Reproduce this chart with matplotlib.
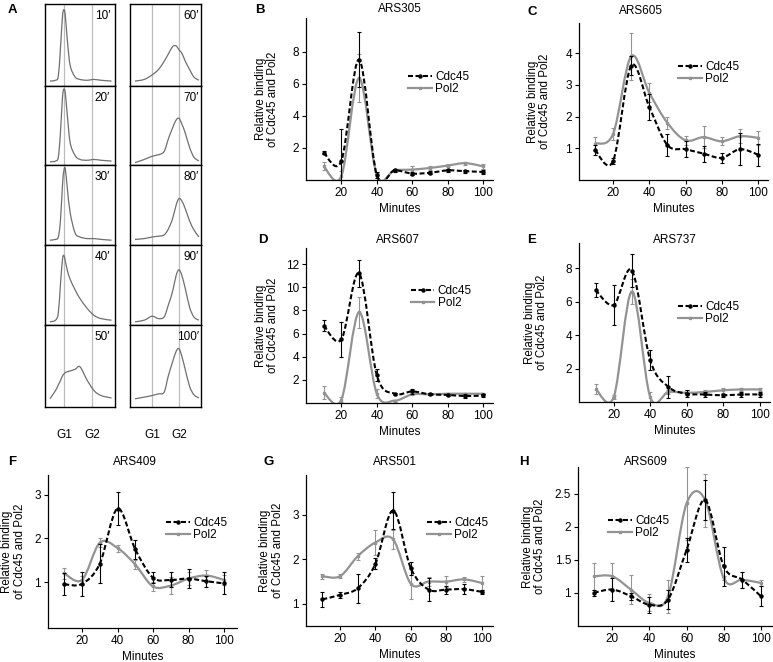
import numpy as np
import matplotlib
matplotlib.use('Agg')
import matplotlib.pyplot as plt
from matplotlib.path import Path
from matplotlib.patches import PathPatch
from matplotlib.lines import Line2D

plt.rcParams['font.family'] = ['Liberation Sans', 'DejaVu Sans']
plt.rcParams['font.size'] = 8.5

W, H = 773, 662

# ---- panel A: flow cytometry profiles (heights as fraction of each box) ----
grid_left = [0.07, 0.15, 0.19, 0.22, 0.25, 0.27, 0.29, 0.32, 0.36, 0.43, 0.5, 0.6, 0.7, 0.8, 0.95]
grid_right = [0.07, 0.2, 0.31, 0.4, 0.48, 0.54, 0.6, 0.65, 0.69, 0.73, 0.78, 0.84, 0.9, 0.97]

time_left = ["10′", "20′", "30′", "40′", "50′"]
time_right = ["60′", "70′", "80′", "90′", "100′"]

facs_left = [
    [0.06, 0.07, 0.12, 0.45, 0.85, 0.93, 0.86, 0.55, 0.25, 0.11, 0.08, 0.07, 0.08, 0.07, 0.06],
    [0.04, 0.05, 0.10, 0.40, 0.86, 0.96, 0.91, 0.62, 0.28, 0.12, 0.07, 0.06, 0.07, 0.06, 0.05],
    [0.06, 0.07, 0.10, 0.30, 0.75, 0.93, 0.95, 0.70, 0.40, 0.15, 0.10, 0.08, 0.08, 0.07, 0.06],
    [0.04, 0.06, 0.15, 0.50, 0.82, 0.87, 0.80, 0.68, 0.57, 0.44, 0.33, 0.21, 0.12, 0.08, 0.06],
    [0.10, 0.20, 0.27, 0.32, 0.38, 0.40, 0.42, 0.43, 0.44, 0.46, 0.49, 0.33, 0.20, 0.14, 0.11],
]
facs_right = [
    [0.06, 0.08, 0.135, 0.20, 0.30, 0.39, 0.48, 0.49, 0.44, 0.40, 0.30, 0.20, 0.11, 0.07],
    [0.03, 0.07, 0.11, 0.13, 0.17, 0.33, 0.47, 0.57, 0.59, 0.52, 0.40, 0.22, 0.10, 0.05],
    [0.07, 0.08, 0.10, 0.11, 0.125, 0.20, 0.33, 0.50, 0.58, 0.55, 0.45, 0.30, 0.19, 0.10],
    [0.04, 0.06, 0.11, 0.08, 0.10, 0.25, 0.42, 0.62, 0.69, 0.62, 0.45, 0.22, 0.10, 0.06],
    [0.10, 0.12, 0.14, 0.16, 0.18, 0.38, 0.55, 0.68, 0.71, 0.62, 0.45, 0.25, 0.15, 0.11],
]

# ---- panels B-H: ChIP time courses ----
minutes = [10, 20, 30, 40, 50, 60, 70, 80, 90, 100]

cdc45_B = [1.7, 1.2, 7.5, 0.3, 0.6, 0.4, 0.45, 0.6, 0.55, 0.5]
cdc45_B_err = [0.1, 2.0, 1.7, 0.2, 0.1, 0.1, 0.1, 0.1, 0.1, 0.1]
pol2_B = [0.85, 0.25, 6.35, 0.3, 0.6, 0.65, 0.75, 0.9, 1.05, 0.85]
pol2_B_err = [0.25, 0.3, 1.5, 0.15, 0.1, 0.2, 0.1, 0.1, 0.1, 0.15]

cdc45_C = [0.95, 0.6, 3.6, 2.3, 1.1, 0.97, 0.83, 0.7, 0.97, 0.8]
cdc45_C_err = [0.15, 0.1, 0.3, 0.4, 0.35, 0.25, 0.25, 0.15, 0.5, 0.35]
pol2_C = [1.15, 1.45, 3.9, 2.75, 1.8, 1.25, 1.35, 1.22, 1.38, 1.33]
pol2_C_err = [0.2, 0.2, 0.75, 0.3, 0.2, 0.15, 0.35, 0.12, 0.22, 0.22]

cdc45_D = [6.7, 5.5, 11.2, 2.4, 0.8, 1.0, 0.75, 0.7, 0.6, 0.65]
cdc45_D_err = [0.5, 1.5, 1.2, 0.5, 0.1, 0.2, 0.1, 0.1, 0.15, 0.15]
pol2_D = [0.9, 0.3, 7.85, 0.8, 0.2, 0.75, 0.75, 0.8, 0.8, 0.8]
pol2_D_err = [0.55, 0.2, 1.35, 0.4, 0.1, 0.1, 0.1, 0.1, 0.1, 0.1]

cdc45_E = [6.7, 5.8, 7.85, 2.5, 0.9, 0.5, 0.45, 0.4, 0.45, 0.45]
cdc45_E_err = [0.4, 1.2, 1.0, 0.6, 0.65, 0.2, 0.15, 0.1, 0.15, 0.15]
pol2_E = [0.8, 0.3, 6.6, 0.3, 0.6, 0.55, 0.6, 0.7, 0.75, 0.75]
pol2_E_err = [0.3, 0.1, 0.75, 0.3, 0.1, 0.15, 0.1, 0.15, 0.1, 0.1]

cdc45_F = [0.95, 0.96, 1.42, 2.68, 1.75, 1.1, 1.05, 1.08, 1.02, 0.97]
cdc45_F_err = [0.25, 0.27, 0.45, 0.38, 0.22, 0.12, 0.17, 0.22, 0.13, 0.25]
pol2_F = [1.2, 1.05, 1.9, 1.78, 1.4, 0.9, 0.92, 1.08, 1.15, 1.05]
pol2_F_err = [0.12, 0.1, 0.1, 0.08, 0.1, 0.1, 0.2, 0.15, 0.12, 0.12]

cdc45_G = [1.1, 1.2, 1.35, 1.9, 3.1, 1.8, 1.32, 1.32, 1.33, 1.27]
cdc45_G_err = [0.17, 0.06, 0.33, 0.12, 0.42, 0.15, 0.25, 0.09, 0.12, 0.04]
pol2_G = [1.62, 1.62, 2.07, 2.38, 2.45, 1.45, 1.5, 1.5, 1.55, 1.47]
pol2_G_err = [0.06, 0.04, 0.08, 0.28, 0.22, 0.35, 0.1, 0.12, 0.05, 0.15]

cdc45_H = [1.0, 1.05, 0.95, 0.82, 0.9, 1.65, 2.4, 1.4, 1.2, 0.95]
cdc45_H_err = [0.05, 0.18, 0.05, 0.12, 0.15, 0.18, 0.3, 0.3, 0.12, 0.15]
pol2_H = [1.25, 1.25, 1.05, 0.85, 0.95, 2.35, 2.4, 1.22, 1.2, 1.15]
pol2_H_err = [0.2, 0.2, 0.22, 0.13, 0.25, 0.55, 0.4, 0.03, 0.12, 0.05]

BLACK = 'black'
GREY = '#939393'
DASH = (0, (2.4, 1.2))


def px_axes(fig, x0, y0, x1, y1):
    # pixel box (top-left origin) -> axes
    return fig.add_axes([x0 / W, 1 - y1 / H, (x1 - x0) / W, (y1 - y0) / H])


def smooth_path(xs, ys):
    # Catmull-Rom style cubic Bezier through the points (like a "smoothed line")
    pts = np.column_stack([xs, ys]).astype(float)
    ext = np.vstack([pts[0], pts, pts[-1]])
    verts = [pts[0]]
    codes = [Path.MOVETO]
    for i in range(len(pts) - 1):
        p0, p1, p2, p3 = ext[i], ext[i + 1], ext[i + 2], ext[i + 3]
        verts += [p1 + (p2 - p0) / 6, p2 - (p3 - p1) / 6, p2]
        codes += [Path.CURVE4] * 3
    return Path(verts, codes)


fig = plt.figure(figsize=(W / 100, H / 100), dpi=100)

# ---- panel A ----
row_edges = [4, 86, 165, 245, 325, 407]
columns = [
    (45, 115, grid_left, facs_left, time_left, (0.27, 0.67), 0.93),
    (130, 201, grid_right, facs_right, time_right, (0.31, 0.69), 0.97),
]
for x0, x1, grid, profiles, labels, gates, lab_x in columns:
    for r in range(5):
        ax = px_axes(fig, x0, row_edges[r], x1, row_edges[r + 1])
        ax.set_xlim(0, 1)
        ax.set_ylim(0, 1)
        for g in gates:
            ax.axvline(g, color='#bdbdbd', lw=0.9, zorder=1)
        ax.add_patch(PathPatch(smooth_path(grid, profiles[r]), fill=False,
                               ec='#6f6f6f', lw=0.9, zorder=2))
        ax.text(lab_x, 0.85, labels[r], ha='right', va='center', fontsize=8.5,
                transform=ax.transAxes)
        ax.set_xticks([])
        ax.set_yticks([])
        for s in ax.spines.values():
            s.set_linewidth(1.0)
    for g, name in zip(gates, ['G1', 'G2']):
        fig.text((x0 + g * (x1 - x0)) / W, 1 - 435 / H, name, ha='center', va='center',
                 fontsize=8.5)

# ---- panels B-H ----
panels = [
    ('ARS305', (306, 18, 493, 180), (0, 105.6), (0, 10.1), [2, 4, 6, 8],
     cdc45_B, cdc45_B_err, pol2_B, pol2_B_err, (400, 9), -0.144, (0.545, 0.596)),
    ('ARS605', (579, 23, 768, 180), (1.2, 105.5), (0, 4.95), [1, 2, 3, 4],
     cdc45_C, cdc45_C_err, pol2_C, pol2_C_err, (641, 11), -0.148, (0.524, 0.68)),
    ('ARS607', (306, 248, 493, 403), (0, 105.6), (0, 13.4), [2, 4, 6, 8, 10, 12],
     cdc45_D, cdc45_D_err, pol2_D, pol2_D_err, (398, 240), -0.144, (0.56, 0.684)),
    ('ARS737', (579, 243, 770, 402), (0.95, 105.7), (0, 9.5), [2, 4, 6, 8],
     cdc45_E, cdc45_E_err, pol2_E, pol2_E_err, (675, 240), -0.16, (0.52, 0.56)),
    ('ARS409', (48, 475, 237, 628), (0.85, 107.3), (-0.05, 3.45), [1, 2, 3],
     cdc45_F, cdc45_F_err, pol2_F, pol2_F_err, (135, 462), -0.118, (0.624, 0.644)),
    ('ARS501', (306, 475, 493, 626), (0.8, 106.4), (0.5, 3.9), [1, 2, 3],
     cdc45_G, cdc45_G_err, pol2_G, pol2_G_err, (395, 462), -0.118, (0.647, 0.64)),
    ('ARS609', (578, 467, 772, 626), (1.5, 106), (0.5, 2.9), [1, 1.5, 2, 2.5],
     cdc45_H, cdc45_H_err, pol2_H, pol2_H_err, (646, 462), -0.165, (0.155, 0.62)),
]

for (name, box, xlim, ylim, yticks, cdc, cdc_err, pol, pol_err,
     title_xy, ylab_x, leg_xy) in panels:
    ax = px_axes(fig, *box)
    ax.set_xlim(*xlim)
    ax.set_ylim(*ylim)

    ax.errorbar(minutes, pol, yerr=pol_err, fmt='s', ms=1.8, color=GREY, ecolor=GREY,
                elinewidth=0.8, capsize=1.5, capthick=0.8, zorder=2)
    ax.add_patch(PathPatch(smooth_path(minutes, pol), fill=False, ec=GREY, lw=1.6, zorder=2))
    ax.errorbar(minutes, cdc, yerr=cdc_err, fmt='o', ms=2.2, color=BLACK, ecolor=BLACK,
                elinewidth=0.8, capsize=1.5, capthick=0.8, zorder=3)
    ax.add_patch(PathPatch(smooth_path(minutes, cdc), fill=False, ec=BLACK, lw=1.5,
                           ls=DASH, zorder=3))

    ax.set_xticks([20, 40, 60, 80, 100])
    ax.set_yticks(yticks)
    ax.set_yticklabels([f'{t:g}' for t in yticks])
    ax.tick_params(direction='out', length=3, width=0.8, pad=2, labelsize=8.5)
    for s in ['top', 'right']:
        ax.spines[s].set_visible(False)
    for s in ['left', 'bottom']:
        ax.spines[s].set_linewidth(0.9)

    ax.set_xlabel('Minutes', fontsize=8.5, labelpad=3)
    ax.set_ylabel('Relative binding\nof Cdc45 and Pol2', fontsize=8.3, linespacing=1.05)
    ax.yaxis.set_label_coords(ylab_x, 0.5)

    fig.text(title_xy[0] / W, 1 - title_xy[1] / H, name, ha='center', va='center',
             fontsize=8.5)

    handles = [
        Line2D([], [], color=BLACK, lw=1.5, ls=DASH, marker='o', ms=2.2),
        Line2D([], [], color=GREY, lw=1.6, marker='s', ms=1.8),
    ]
    ax.legend(handles, ['Cdc45', 'Pol2'], loc='center left', bbox_to_anchor=leg_xy,
              frameon=False, fontsize=8.5, handlelength=2.0, handletextpad=0.3,
              labelspacing=0.0, borderpad=0, borderaxespad=0)

# panel letters
letters = [('A', 8, 10), ('B', 255, 10), ('C', 527, 12), ('D', 258, 240),
           ('E', 527, 240), ('F', 8, 462), ('G', 264, 462), ('H', 519, 462)]
for lab, lx, ly in letters:
    fig.text(lx / W, 1 - ly / H, lab, ha='left', va='center', fontsize=9.5,
             fontweight='bold')

fig.savefig('out.png', dpi=100)
